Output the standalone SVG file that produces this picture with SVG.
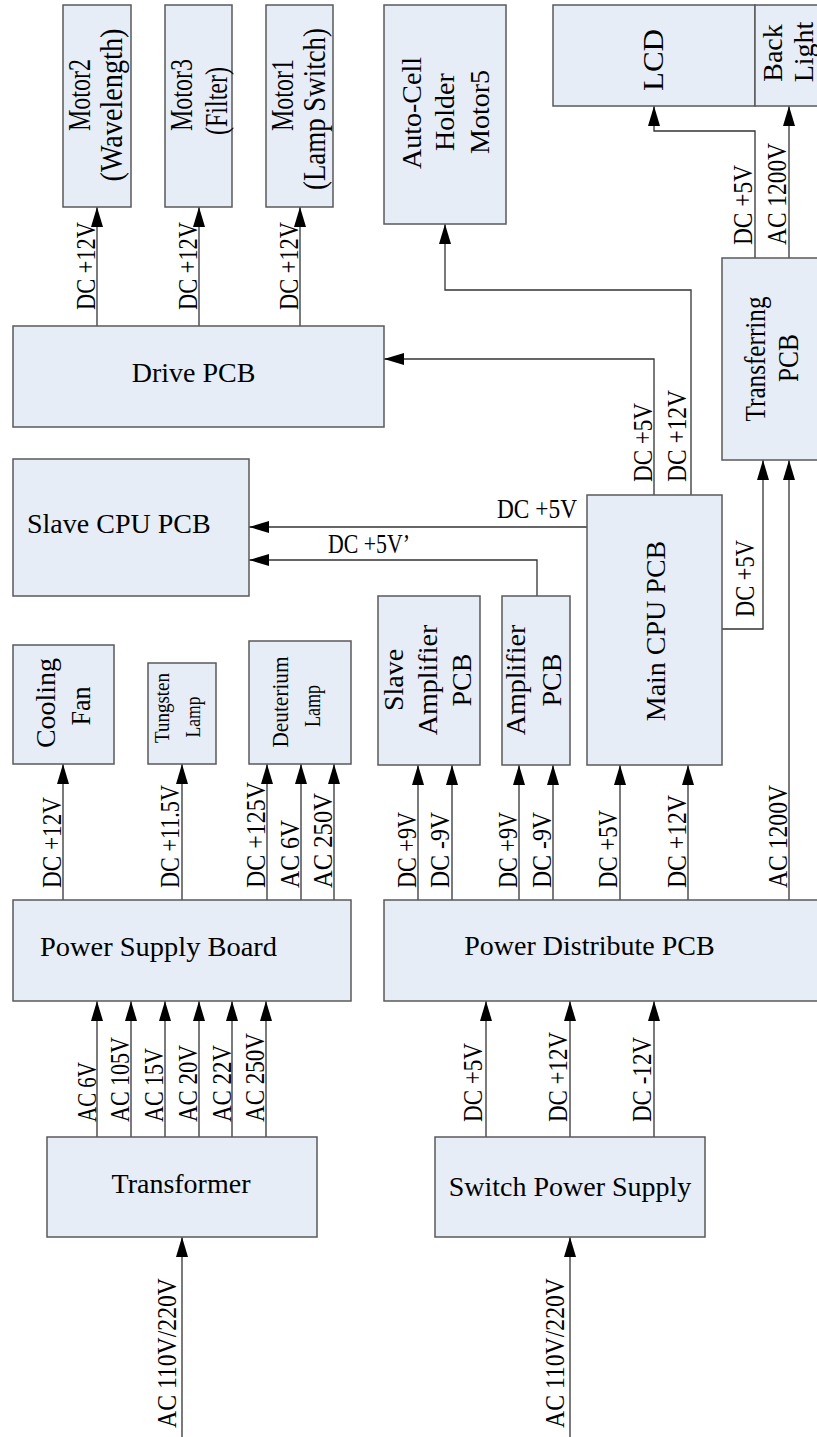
<svg xmlns="http://www.w3.org/2000/svg" width="817" height="1437" viewBox="0 0 817 1437">
<style>
.box{fill:#e6edf7;stroke:#595959;stroke-width:1.5}
.t{font-family:"Liberation Serif","Times New Roman",serif;font-size:28px;fill:#000}
.m{font-size:31px}
.l{font-family:"Liberation Serif","Times New Roman",serif;font-size:27px;fill:#000}
.c{fill:none;stroke:#333;stroke-width:1.3}
.a{marker-end:url(#ah)}
</style>
<defs>
<marker id="ah" markerUnits="userSpaceOnUse" markerWidth="20" markerHeight="12" refX="20" refY="6" orient="auto">
<path d="M0,0 L20,6 L0,12 z" fill="#000"/>
</marker>
</defs>
<rect width="817" height="1437" fill="#fff"/>

<g id="connectors">
<path class="c a" d="M97,326 V207"/>
<path class="c a" d="M199,326 V207"/>
<path class="c a" d="M300,326 V207"/>
<path class="c a" d="M691,495 V290 H445 V224"/>
<path class="c a" d="M654,495 V359 H384"/>
<path class="c a" d="M755,258 V131 H654 V106"/>
<path class="c a" d="M789,258 V106"/>
<path class="c a" d="M587,527 H249"/>
<path class="c a" d="M537,596 V560 H249"/>
<path class="c a" d="M722,629 H763 V460"/>
<path class="c a" d="M789,900 V460"/>
<path class="c a" d="M418,900 V765"/>
<path class="c a" d="M452,900 V765"/>
<path class="c a" d="M519,900 V765"/>
<path class="c a" d="M553,900 V765"/>
<path class="c a" d="M620,900 V765"/>
<path class="c a" d="M688,900 V765"/>
<path class="c a" d="M63,900 V764"/>
<path class="c a" d="M182,900 V764"/>
<path class="c a" d="M267,900 V764"/>
<path class="c a" d="M301,900 V764"/>
<path class="c a" d="M334,900 V764"/>
<path class="c a" d="M97,1137 V1001"/>
<path class="c a" d="M131,1137 V1001"/>
<path class="c a" d="M165,1137 V1001"/>
<path class="c a" d="M199,1137 V1001"/>
<path class="c a" d="M232,1137 V1001"/>
<path class="c a" d="M266,1137 V1001"/>
<path class="c a" d="M182,1437 V1237"/>
<path class="c a" d="M486,1137 V1001"/>
<path class="c a" d="M570,1137 V1001"/>
<path class="c a" d="M654,1137 V1001"/>
<path class="c a" d="M570,1437 V1237"/>

<g id="connector-labels">
<text class="l" transform="translate(95,310) rotate(-90)" textLength="88" lengthAdjust="spacingAndGlyphs">DC +12V</text>
<text class="l" transform="translate(197,310) rotate(-90)" textLength="88" lengthAdjust="spacingAndGlyphs">DC +12V</text>
<text class="l" transform="translate(298,310) rotate(-90)" textLength="88" lengthAdjust="spacingAndGlyphs">DC +12V</text>
<text class="l" transform="translate(752,245) rotate(-90)" textLength="80" lengthAdjust="spacingAndGlyphs">DC +5V</text>
<text class="l" transform="translate(786,245) rotate(-90)" textLength="102" lengthAdjust="spacingAndGlyphs">AC 1200V</text>
<text class="l" transform="translate(652,482) rotate(-90)" textLength="79" lengthAdjust="spacingAndGlyphs">DC +5V</text>
<text class="l" transform="translate(686,482) rotate(-90)" textLength="92" lengthAdjust="spacingAndGlyphs">DC +12V</text>
<text class="l" x="497" y="518" textLength="80" lengthAdjust="spacingAndGlyphs">DC +5V</text>
<text class="l" x="328" y="553" textLength="82" lengthAdjust="spacingAndGlyphs">DC +5V’</text>
<text class="l" transform="translate(754,617) rotate(-90)" textLength="77" lengthAdjust="spacingAndGlyphs">DC +5V</text>
<text class="l" transform="translate(61,888) rotate(-90)" textLength="91" lengthAdjust="spacingAndGlyphs">DC +12V</text>
<text class="l" transform="translate(179,888) rotate(-90)" textLength="103" lengthAdjust="spacingAndGlyphs">DC +11.5V</text>
<text class="l" transform="translate(265,888) rotate(-90)" textLength="106" lengthAdjust="spacingAndGlyphs">DC +125V</text>
<text class="l" transform="translate(299,888) rotate(-90)" textLength="68" lengthAdjust="spacingAndGlyphs">AC 6V</text>
<text class="l" transform="translate(332,888) rotate(-90)" textLength="95" lengthAdjust="spacingAndGlyphs">AC 250V</text>
<text class="l" transform="translate(416,888) rotate(-90)" textLength="76" lengthAdjust="spacingAndGlyphs">DC +9V</text>
<text class="l" transform="translate(449,888) rotate(-90)" textLength="76" lengthAdjust="spacingAndGlyphs">DC -9V</text>
<text class="l" transform="translate(517,888) rotate(-90)" textLength="76" lengthAdjust="spacingAndGlyphs">DC +9V</text>
<text class="l" transform="translate(551,888) rotate(-90)" textLength="76" lengthAdjust="spacingAndGlyphs">DC -9V</text>
<text class="l" transform="translate(617,888) rotate(-90)" textLength="78" lengthAdjust="spacingAndGlyphs">DC +5V</text>
<text class="l" transform="translate(686,888) rotate(-90)" textLength="93" lengthAdjust="spacingAndGlyphs">DC +12V</text>
<text class="l" transform="translate(787,888) rotate(-90)" textLength="103" lengthAdjust="spacingAndGlyphs">AC 1200V</text>
<text class="l" transform="translate(96,1122) rotate(-90)" textLength="60" lengthAdjust="spacingAndGlyphs">AC 6V</text>
<text class="l" transform="translate(129,1122) rotate(-90)" textLength="85" lengthAdjust="spacingAndGlyphs">AC 105V</text>
<text class="l" transform="translate(163,1122) rotate(-90)" textLength="74" lengthAdjust="spacingAndGlyphs">AC 15V</text>
<text class="l" transform="translate(197,1122) rotate(-90)" textLength="77" lengthAdjust="spacingAndGlyphs">AC 20V</text>
<text class="l" transform="translate(231,1122) rotate(-90)" textLength="77" lengthAdjust="spacingAndGlyphs">AC 22V</text>
<text class="l" transform="translate(264,1122) rotate(-90)" textLength="89" lengthAdjust="spacingAndGlyphs">AC 250V</text>
<text class="l" transform="translate(482,1122) rotate(-90)" textLength="79" lengthAdjust="spacingAndGlyphs">DC +5V</text>
<text class="l" transform="translate(567,1122) rotate(-90)" textLength="90" lengthAdjust="spacingAndGlyphs">DC +12V</text>
<text class="l" transform="translate(651,1122) rotate(-90)" textLength="85" lengthAdjust="spacingAndGlyphs">DC -12V</text>
<text class="l" transform="translate(176,1428) rotate(-90)" textLength="150" lengthAdjust="spacingAndGlyphs">AC 110V/220V</text>
<text class="l" transform="translate(564,1428) rotate(-90)" textLength="150" lengthAdjust="spacingAndGlyphs">AC 110V/220V</text>
</g>
</g>

<g id="motor2">
<rect class="box" x="63" y="5" width="68" height="202"/>
<text class="t m" transform="translate(90,95) rotate(-90)" text-anchor="middle" textLength="72" lengthAdjust="spacingAndGlyphs">Motor2</text>
<text class="t m" transform="translate(122,105) rotate(-90)" text-anchor="middle" textLength="153" lengthAdjust="spacingAndGlyphs">(Wavelength)</text>
</g>
<g id="motor3">
<rect class="box" x="165" y="5" width="67" height="202"/>
<text class="t m" transform="translate(192,95) rotate(-90)" text-anchor="middle" textLength="72" lengthAdjust="spacingAndGlyphs">Motor3</text>
<text class="t m" transform="translate(227,101) rotate(-90)" text-anchor="middle" textLength="68" lengthAdjust="spacingAndGlyphs">(Filter)</text>
</g>
<g id="motor1">
<rect class="box" x="266" y="5" width="67" height="202"/>
<text class="t m" transform="translate(293,95) rotate(-90)" text-anchor="middle" textLength="72" lengthAdjust="spacingAndGlyphs">Motor1</text>
<text class="t m" transform="translate(325,109) rotate(-90)" text-anchor="middle" textLength="162" lengthAdjust="spacingAndGlyphs">(Lamp Switch)</text>
</g>
<g id="autocell">
<rect class="box" x="384" y="5" width="122" height="219"/>
<text class="t" transform="translate(421,113) rotate(-90)" text-anchor="middle">Auto-Cell</text>
<text class="t" transform="translate(454,112) rotate(-90)" text-anchor="middle">Holder</text>
<text class="t" transform="translate(489,112) rotate(-90)" text-anchor="middle">Motor5</text>
</g>
<g id="lcd">
<rect class="box" x="553" y="5" width="202" height="101"/>
<text class="t" style="font-size:30px" transform="translate(663,60) rotate(-90)" text-anchor="middle" textLength="62" lengthAdjust="spacingAndGlyphs">LCD</text>
</g>
<g id="backlight">
<rect class="box" x="755" y="5" width="80" height="101"/>
<text class="t" transform="translate(782,53) rotate(-90)" text-anchor="middle">Back</text>
<text class="t" transform="translate(813,52) rotate(-90)" text-anchor="middle">Light</text>
</g>
<g id="transferring">
<rect class="box" x="722" y="258" width="110" height="202"/>
<text class="t" style="font-size:29px" transform="translate(765,359) rotate(-90)" text-anchor="middle" textLength="125" lengthAdjust="spacingAndGlyphs">Transferring</text>
<text class="t" style="font-size:29px" transform="translate(798,358) rotate(-90)" text-anchor="middle" textLength="48" lengthAdjust="spacingAndGlyphs">PCB</text>
</g>
<g id="drive">
<rect class="box" x="13" y="326" width="371" height="101"/>
<text class="t" x="193.5" y="382" text-anchor="middle">Drive PCB</text>
</g>
<g id="slavecpu">
<rect class="box" x="13" y="459" width="236" height="137"/>
<text class="t" x="27" y="533">Slave CPU PCB</text>
</g>
<g id="maincpu">
<rect class="box" x="587" y="495" width="135" height="270"/>
<text class="t" transform="translate(665,631) rotate(-90)" text-anchor="middle">Main CPU PCB</text>
</g>
<g id="slaveamp">
<rect class="box" x="378" y="596" width="102" height="169"/>
<text class="t" transform="translate(403,680) rotate(-90)" text-anchor="middle">Slave</text>
<text class="t" transform="translate(437,680) rotate(-90)" text-anchor="middle">Amplifier</text>
<text class="t" transform="translate(471,680) rotate(-90)" text-anchor="middle">PCB</text>
</g>
<g id="amp">
<rect class="box" x="502" y="596" width="68" height="169"/>
<text class="t" transform="translate(525,680) rotate(-90)" text-anchor="middle">Amplifier</text>
<text class="t" transform="translate(561,680) rotate(-90)" text-anchor="middle">PCB</text>
</g>
<g id="fan">
<rect class="box" x="13" y="645" width="101" height="119"/>
<text class="t" transform="translate(55,703) rotate(-90)" text-anchor="middle">Cooling</text>
<text class="t" transform="translate(90,706) rotate(-90)" text-anchor="middle" textLength="39" lengthAdjust="spacingAndGlyphs">Fan</text>
</g>
<g id="tungsten">
<rect class="box" x="148" y="663" width="68" height="101"/>
<text class="t" style="font-size:22px" transform="translate(169,708) rotate(-90)" text-anchor="middle" textLength="70" lengthAdjust="spacingAndGlyphs">Tungsten</text>
<text class="t" style="font-size:22px" transform="translate(200,717) rotate(-90)" text-anchor="middle" textLength="41" lengthAdjust="spacingAndGlyphs">Lamp</text>
</g>
<g id="deuterium">
<rect class="box" x="249" y="641" width="102" height="123"/>
<text class="t" style="font-size:23px" transform="translate(288,702) rotate(-90)" text-anchor="middle" textLength="91" lengthAdjust="spacingAndGlyphs">Deuterium</text>
<text class="t" style="font-size:23px" transform="translate(320,706) rotate(-90)" text-anchor="middle" textLength="42" lengthAdjust="spacingAndGlyphs">Lamp</text>
</g>
<g id="psb">
<rect class="box" x="13" y="900" width="338" height="101"/>
<text class="t" x="40" y="956" textLength="237" lengthAdjust="spacingAndGlyphs">Power Supply Board</text>
</g>
<g id="pdpcb">
<rect class="box" x="384" y="900" width="450" height="101"/>
<text class="t" x="589.5" y="955" text-anchor="middle">Power Distribute PCB</text>
</g>
<g id="transformer">
<rect class="box" x="47" y="1137" width="270" height="100"/>
<text class="t" x="181" y="1193" text-anchor="middle">Transformer</text>
</g>
<g id="switchps">
<rect class="box" x="435" y="1137" width="270" height="100"/>
<text class="t" x="570" y="1196" text-anchor="middle">Switch Power Supply</text>
</g>
</svg>
